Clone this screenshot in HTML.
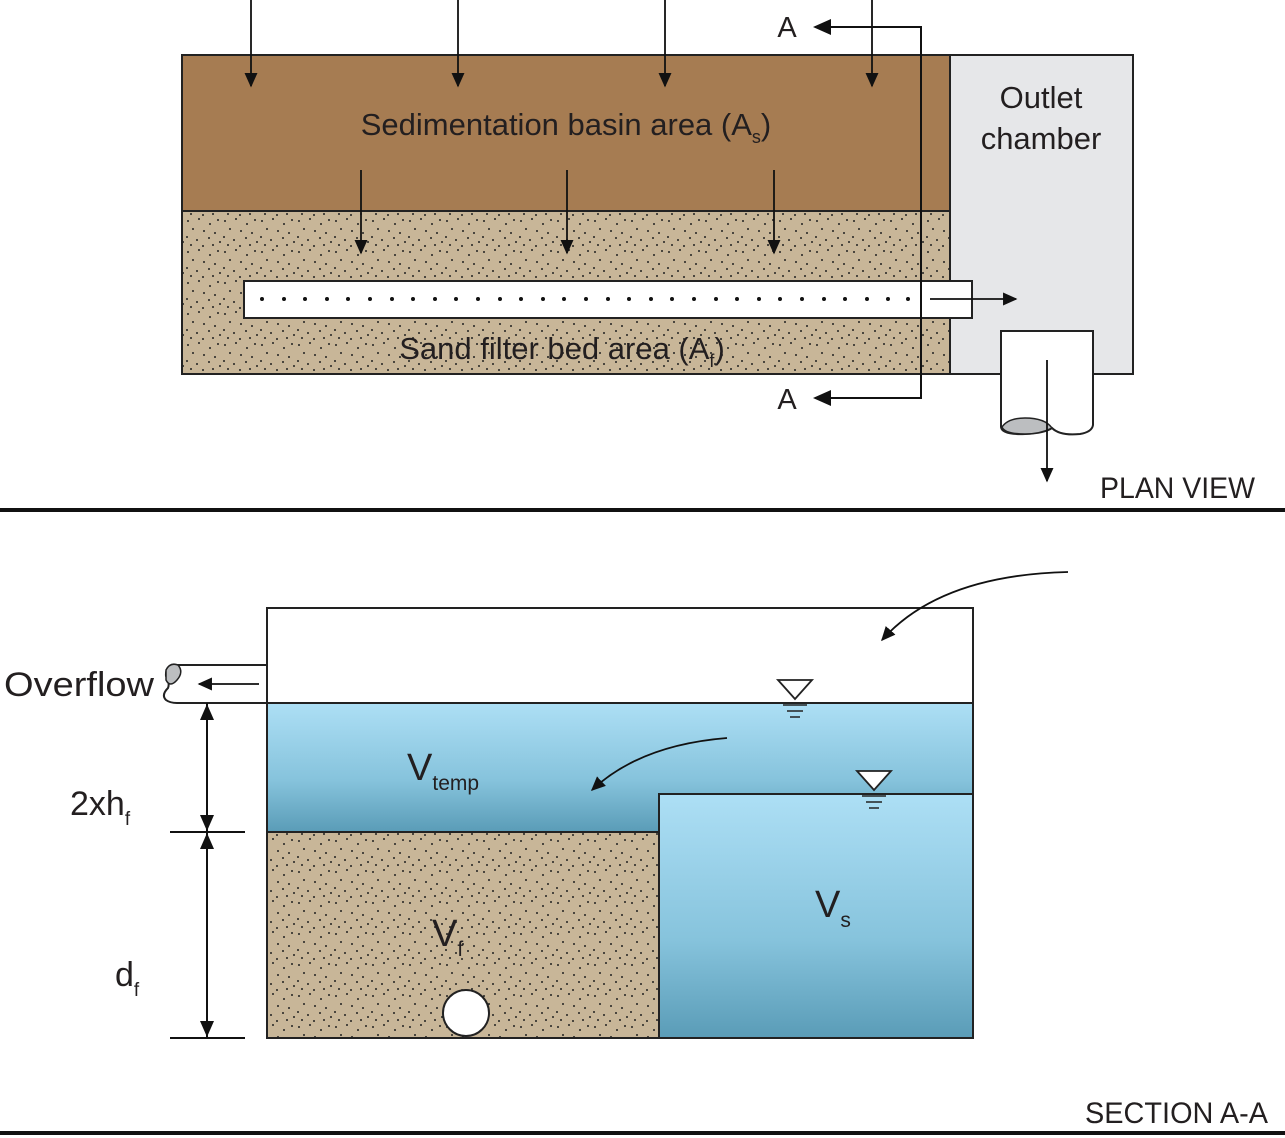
<!DOCTYPE html>
<html><head><meta charset="utf-8"><style>html,body{margin:0;padding:0;background:#fff}svg{display:block}text{font-family:"Liberation Sans",sans-serif;fill:#231f20}</style></head><body>
<svg width="1285" height="1138" viewBox="0 0 1285 1138" xmlns="http://www.w3.org/2000/svg">
<defs>
<pattern id="sand" width="37" height="31" patternUnits="userSpaceOnUse">
<rect width="37" height="31" fill="#c8b698"/>
<g fill="#222"><circle cx="3" cy="4" r="1"/><circle cx="14" cy="2" r="1"/><circle cx="25" cy="7" r="1"/><circle cx="33" cy="3" r="1"/><circle cx="8" cy="12" r="1"/><circle cx="19" cy="14" r="1"/><circle cx="30" cy="16" r="1"/><circle cx="2" cy="20" r="1"/><circle cx="12" cy="23" r="1"/><circle cx="24" cy="21" r="1"/><circle cx="35" cy="25" r="1"/><circle cx="6" cy="28" r="1"/><circle cx="18" cy="29" r="1"/><circle cx="28" cy="28" r="1"/></g>
</pattern>
<linearGradient id="water" x1="0" y1="0" x2="0" y2="1"><stop offset="0" stop-color="#addff5"/><stop offset="0.6" stop-color="#86c3dc"/><stop offset="1" stop-color="#5a9cb7"/></linearGradient>
<marker id="ah" viewBox="0 0 10 10" refX="9" refY="5" markerWidth="8" markerHeight="8" orient="auto"><path d="M0,0.5 L10,5 L0,9.5 z" fill="#111"/></marker>
</defs>
<!-- PLAN -->
<rect x="182" y="55" width="768" height="156" fill="#a67c52" stroke="#222" stroke-width="2"/>
<rect x="182" y="211" width="768" height="163" fill="url(#sand)" stroke="#222" stroke-width="2"/>
<rect x="950" y="55" width="183" height="319" fill="#e6e7e9" stroke="#222" stroke-width="2"/>
<rect x="244" y="281" width="728" height="37" fill="#fff" stroke="#222" stroke-width="2"/>
<g fill="#111">
<circle cx="262" cy="299" r="2"/><circle cx="284" cy="299" r="2"/><circle cx="305" cy="299" r="2"/><circle cx="327" cy="299" r="2"/><circle cx="348" cy="299" r="2"/><circle cx="370" cy="299" r="2"/><circle cx="392" cy="299" r="2"/><circle cx="413" cy="299" r="2"/><circle cx="435" cy="299" r="2"/><circle cx="456" cy="299" r="2"/><circle cx="478" cy="299" r="2"/><circle cx="500" cy="299" r="2"/><circle cx="521" cy="299" r="2"/><circle cx="543" cy="299" r="2"/><circle cx="564" cy="299" r="2"/><circle cx="586" cy="299" r="2"/><circle cx="608" cy="299" r="2"/><circle cx="629" cy="299" r="2"/><circle cx="651" cy="299" r="2"/><circle cx="672" cy="299" r="2"/><circle cx="694" cy="299" r="2"/><circle cx="716" cy="299" r="2"/><circle cx="737" cy="299" r="2"/><circle cx="759" cy="299" r="2"/><circle cx="780" cy="299" r="2"/><circle cx="802" cy="299" r="2"/><circle cx="824" cy="299" r="2"/><circle cx="845" cy="299" r="2"/><circle cx="867" cy="299" r="2"/><circle cx="888" cy="299" r="2"/><circle cx="908" cy="299" r="2"/>
</g>
<g stroke="#111" stroke-width="1.8" fill="none" marker-end="url(#ah)">
<line x1="251" y1="0" x2="251" y2="86"/><line x1="458" y1="0" x2="458" y2="86"/><line x1="665" y1="0" x2="665" y2="86"/><line x1="872" y1="0" x2="872" y2="86"/>
<line x1="361" y1="170" x2="361" y2="253"/><line x1="567" y1="170" x2="567" y2="253"/><line x1="774" y1="170" x2="774" y2="253"/>
<line x1="930" y1="299" x2="1016" y2="299"/>
</g>
<path d="M815,27 H921 V398 H815" fill="none" stroke="#111" stroke-width="2"/>
<path d="M813,27 l18,-8 v16 z M813,398 l18,-8 v16 z" fill="#111"/>
<text x="787" y="37" font-size="29" text-anchor="middle">A</text>
<text x="787" y="409" font-size="29" text-anchor="middle">A</text>
<path d="M1001,374 V331 H1093 V374" fill="#fff" stroke="#222" stroke-width="2"/>
<path d="M1001,374 V427 Q1002,435 1025,434 Q1045,433 1052,428 Q1060,436 1080,434 Q1092,432 1093,425 V374" fill="#fff" stroke="#222" stroke-width="2"/>
<path d="M1002,427 Q1008,418 1025,418 Q1045,418 1052,428 Q1040,434 1025,434 Q1005,434 1002,427 z" fill="#bcbec0" stroke="#222" stroke-width="1.5"/>
<line x1="1047" y1="360" x2="1047" y2="481" stroke="#111" stroke-width="1.8" marker-end="url(#ah)"/>
<text x="566" y="135" font-size="31" text-anchor="middle">Sedimentation basin area (A<tspan font-size="18" dy="8">s</tspan><tspan dy="-8">)</tspan></text>
<text x="1041" y="108" font-size="31" text-anchor="middle">Outlet</text>
<text x="1041" y="149" font-size="31" text-anchor="middle">chamber</text>
<text x="562" y="359" font-size="31" text-anchor="middle">Sand filter bed area (A<tspan font-size="18" dy="8">f</tspan><tspan dy="-8">)</tspan></text>
<text x="1255" y="498" font-size="30" text-anchor="end" textLength="155" lengthAdjust="spacingAndGlyphs">PLAN VIEW</text>
<rect x="0" y="508" width="1285" height="4" fill="#111"/>
<!-- SECTION -->
<rect x="267" y="608" width="706" height="95" fill="#fff" stroke="#222" stroke-width="2"/>
<rect x="267" y="703" width="706" height="129" fill="url(#water)" stroke="#222" stroke-width="2"/>
<rect x="267" y="832" width="392" height="206" fill="url(#sand)" stroke="#222" stroke-width="2"/>
<rect x="659" y="794" width="314" height="244" fill="url(#water)" stroke="#222" stroke-width="2"/>
<circle cx="466" cy="1013" r="23" fill="#fff" stroke="#222" stroke-width="2"/>
<path d="M267,665 H177 Q165,665 166,676 Q170,683 168,688 Q161,695 166,700 Q170,703 177,703 H267 Z" fill="#fff" stroke="#222" stroke-width="2"/>
<path d="M166,670 Q170,662 178,665 Q184,672 177,680 Q170,688 166,680 z" fill="#bcbec0" stroke="#222" stroke-width="1.5"/>
<g stroke="#111" stroke-width="1.8" fill="none" marker-end="url(#ah)">
<line x1="259" y1="684" x2="199" y2="684"/>
<path d="M1068,572 Q940,575 882,640"/>
<path d="M727,738 Q640,745 592,790"/>
</g>
<g stroke="#111" stroke-width="2">
<line x1="207" y1="703" x2="207" y2="1038"/>
<line x1="170" y1="832" x2="245" y2="832"/>
<line x1="170" y1="1038" x2="245" y2="1038"/>
</g>
<g fill="#111">
<path d="M207,704 l-7,16 h14 z"/><path d="M207,831 l-7,-16 h14 z"/><path d="M207,833 l-7,16 h14 z"/><path d="M207,1037 l-7,-16 h14 z"/>
</g>
<g fill="#fff" stroke="#222" stroke-width="1.8">
<path d="M778,680 h34 l-17,19 z"/><path d="M857,771 h34 l-17,19 z"/>
</g>
<g stroke="#222" stroke-width="1.5">
<line x1="783" y1="705" x2="807" y2="705"/><line x1="787" y1="711" x2="803" y2="711"/><line x1="790" y1="717" x2="800" y2="717"/>
<line x1="862" y1="796" x2="886" y2="796"/><line x1="866" y1="802" x2="882" y2="802"/><line x1="869" y1="808" x2="879" y2="808"/>
</g>
<text x="4" y="696" font-size="34" textLength="150" lengthAdjust="spacingAndGlyphs">Overflow</text>
<text x="70" y="815" font-size="34">2xh<tspan font-size="19" dy="10">f</tspan></text>
<text x="115" y="986" font-size="34">d<tspan font-size="19" dy="10">f</tspan></text>
<text x="407" y="780" font-size="38">V<tspan font-size="21" dy="10">temp</tspan></text>
<text x="432" y="946" font-size="38">V<tspan font-size="21" dy="10">f</tspan></text>
<text x="815" y="917" font-size="38">V<tspan font-size="21" dy="10">s</tspan></text>
<text x="1268" y="1123" font-size="30" text-anchor="end" textLength="183" lengthAdjust="spacingAndGlyphs">SECTION A-A</text>
<rect x="0" y="1131" width="1285" height="4" fill="#111"/>
</svg>
</body></html>
